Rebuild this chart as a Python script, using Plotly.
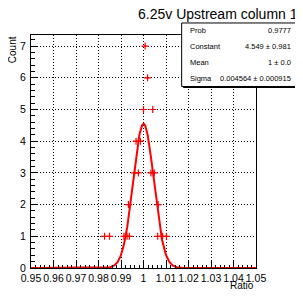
import numpy as np
import plotly.graph_objects as go

# ---- data ----
ratio_x = [1.0007, 1.0018, 1.0000, 1.0041, 0.9967, 0.9986,
           0.9960, 0.9977, 1.0033, 1.0048, 0.9933, 1.0065,
           0.9827, 0.9849, 0.9913, 0.9927, 0.9937, 1.0063, 1.0085, 1.0102]
counts = [7, 6, 5, 5, 4, 4,
          3, 3, 3, 3, 2, 2,
          1, 1, 1, 1, 1, 1, 1, 1]
bin_half_width = 0.0005

fit_constant = 4.549
fit_mean = 1.0
fit_sigma = 0.004564

stats_labels = ["Prob", "Constant", "Mean", "Sigma"]
stats_values = ["0.9777", "4.549 ± 0.981", "1 ± 0.0", "0.004564 ± 0.000915"]

title_text = "6.25v Upstream column 1"
x_title = "Ratio"
y_title = "Count"
x_ticks = [0.95, 0.96, 0.97, 0.98, 0.99, 1.0, 1.01, 1.02, 1.03, 1.04, 1.05]
x_ticklabels = ["0.95", "0.96", "0.97", "0.98", "0.99", "1", "1.01", "1.02", "1.03", "1.04", "1.05"]

# ---- layout geometry (pixels in the 303x296 window; page body has an 8px margin) ----
OFF = 8
W, H = 303 - OFF, 296 - OFF
L, R, T, B = 29 - OFF, 256 - OFF, 35 - OFF, 273.5 - OFF

def px(xp):
    return (xp - OFF - L) / (R - L)

def py(yp):
    return (B - (yp - OFF)) / (B - T)

FONT = "Liberation Sans, Arial, Helvetica, sans-serif"

fit_x = np.linspace(0.95, 1.05, 801)
fit_y = fit_constant * np.exp(-0.5 * ((fit_x - fit_mean) / fit_sigma) ** 2)

fig = go.Figure()
fig.add_trace(go.Scatter(
    x=fit_x, y=fit_y, mode="lines",
    line=dict(color="#ff0000", width=2), hoverinfo="skip", showlegend=False,
))
fig.add_trace(go.Scatter(
    x=ratio_x, y=counts, mode="markers",
    marker=dict(symbol="cross-thin", size=5, line=dict(color="#ff0000", width=1.2), color="#ff0000"),
    error_x=dict(type="constant", value=bin_half_width, color="#ff0000", thickness=1.2, width=0),
    showlegend=False, cliponaxis=False,
))

axis_common = dict(
    showline=True, linecolor="black", linewidth=1, mirror=True,
    showgrid=True, gridcolor="black", griddash="1px,2px", gridwidth=1,
    zeroline=False, ticks="inside", tickcolor="black", tickwidth=1,
    tickfont=dict(family=FONT, size=10.5, color="black"),
)

fig.update_layout(
    width=W, height=H,
    margin=dict(l=L, r=W - R, t=T, b=H - B, pad=0),
    paper_bgcolor="white", plot_bgcolor="white",
    xaxis=dict(
        range=[0.95, 1.05], tickvals=x_ticks, ticktext=x_ticklabels, ticklen=7,
        tickangle=0,
        minor=dict(dtick=0.002, ticks="inside", ticklen=3.5, tickcolor="black", showgrid=False),
        ticklabelstandoff=0,
        **axis_common,
    ),
    yaxis=dict(
        range=[0, 7.35], dtick=1, ticklen=7,
        minor=dict(dtick=0.2, ticks="inside", ticklen=3.5, tickcolor="black", showgrid=False),
        ticklabelstandoff=2,
        **axis_common,
    ),
    font=dict(family=FONT, color="black"),
)

annotations = [
    dict(text=title_text, x=px(300), y=py(13), xref="paper", yref="paper",
         xanchor="right", yanchor="middle", showarrow=False,
         font=dict(size=14, family=FONT, color="black")),
    dict(text=x_title, x=px(256), y=py(291.5), xref="paper", yref="paper",
         xanchor="right", yanchor="middle", showarrow=False,
         font=dict(size=10, family=FONT, color="black")),
    dict(text=y_title, x=px(10.5), y=py(34), xref="paper", yref="paper",
         xanchor="center", yanchor="top", textangle=-90, showarrow=False,
         font=dict(size=10, family=FONT, color="black")),
]

# stats box
bx0, bx1, by0, by1 = 181, 301, 22.7, 87.7
shapes = [
    dict(type="rect", xref="paper", yref="paper", layer="above",
         x0=px(bx0 + 1.5), x1=px(bx1 + 1.5), y0=py(by1 + 1.5), y1=py(by0 + 1.5),
         fillcolor="black", line=dict(width=0)),
    dict(type="rect", xref="paper", yref="paper", layer="above",
         x0=px(bx0), x1=px(bx1), y0=py(by1), y1=py(by0),
         fillcolor="white", line=dict(color="black", width=1)),
]
row_h = (by1 - by0) / len(stats_labels)
for i, (lab, val) in enumerate(zip(stats_labels, stats_values)):
    yc = by0 + row_h * (i + 0.5)
    annotations.append(dict(text=lab, x=px(187), y=py(yc), xref="paper", yref="paper",
                            xanchor="left", yanchor="middle", showarrow=False,
                            font=dict(size=7.5, family=FONT, color="black")))
    annotations.append(dict(text=val, x=px(293), y=py(yc), xref="paper", yref="paper",
                            xanchor="right", yanchor="middle", showarrow=False,
                            font=dict(size=7.5, family=FONT, color="black")))

fig.update_layout(annotations=annotations, shapes=shapes)
fig.write_html("out.html")
